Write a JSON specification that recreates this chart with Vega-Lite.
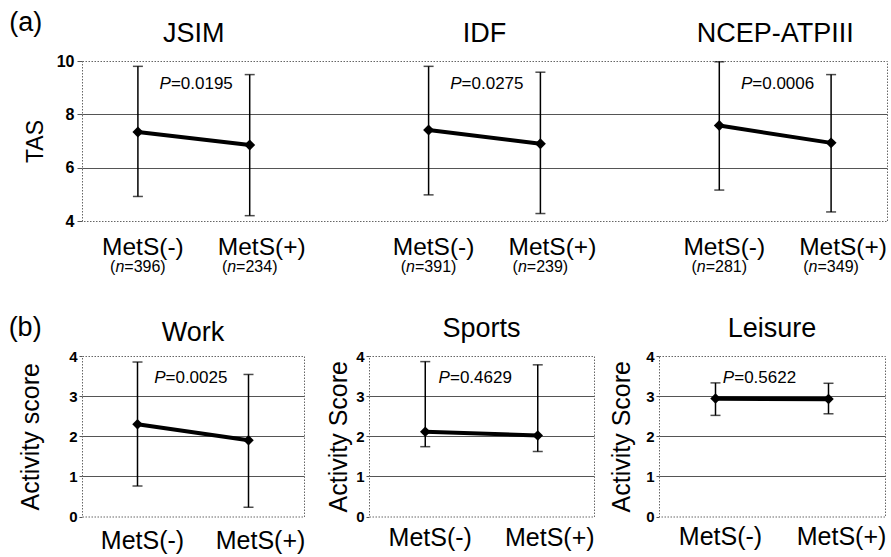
{
  "$schema": "https://vega.github.io/schema/vega-lite/v6.json",
  "padding": {"left": 8, "top": 8, "right": 0, "bottom": 0},
  "background": "white",
  "config": {
    "font": "Liberation Sans",
    "view": {"stroke": "#666", "strokeDash": [1.5, 1.5], "strokeWidth": 1},
    "axis": {"labelFont": "Liberation Sans", "titleFont": "Liberation Sans", "labelColor": "#000", "titleColor": "#000", "titleFontWeight": "normal", "labelFontWeight": "bold"},
    "text": {"font": "Liberation Sans", "color": "#000"}
  },
  "datasets": {
    "tas": [
      {"group": "JSIM", "status": "MetS(-)", "pos": 0.5, "n": 396, "mean": 7.34, "lo": 4.92, "hi": 9.8, "p": "0.0195"},
      {"group": "JSIM", "status": "MetS(+)", "pos": 1.5, "n": 234, "mean": 6.85, "lo": 4.2, "hi": 9.49, "p": "0.0195"},
      {"group": "IDF", "status": "MetS(-)", "pos": 3.1, "n": 391, "mean": 7.41, "lo": 4.98, "hi": 9.8, "p": "0.0275"},
      {"group": "IDF", "status": "MetS(+)", "pos": 4.1, "n": 239, "mean": 6.9, "lo": 4.28, "hi": 9.58, "p": "0.0275"},
      {"group": "NCEP-ATPIII", "status": "MetS(-)", "pos": 5.7, "n": 281, "mean": 7.58, "lo": 5.16, "hi": 9.97, "p": "0.0006"},
      {"group": "NCEP-ATPIII", "status": "MetS(+)", "pos": 6.7, "n": 349, "mean": 6.93, "lo": 4.34, "hi": 9.49, "p": "0.0006"}
    ],
    "act": [
      {"panel": "Work", "status": "MetS(-)", "pos": 0.5, "mean": 2.3, "lo": 0.76, "hi": 3.85, "p": "0.0025"},
      {"panel": "Work", "status": "MetS(+)", "pos": 1.5, "mean": 1.9, "lo": 0.23, "hi": 3.54, "p": "0.0025"},
      {"panel": "Sports", "status": "MetS(-)", "pos": 0.5, "mean": 2.11, "lo": 1.74, "hi": 3.86, "p": "0.4629"},
      {"panel": "Sports", "status": "MetS(+)", "pos": 1.5, "mean": 2.02, "lo": 1.62, "hi": 3.78, "p": "0.4629"},
      {"panel": "Leisure", "status": "MetS(-)", "pos": 0.5, "mean": 2.94, "lo": 2.52, "hi": 3.33, "p": "0.5622"},
      {"panel": "Leisure", "status": "MetS(+)", "pos": 1.5, "mean": 2.93, "lo": 2.56, "hi": 3.32, "p": "0.5622"}
    ]
  },
  "bounds": "flush",
  "spacing": 135,
  "vconcat": [
    {
      "width": 805,
      "height": 160,
      "data": {"name": "tas"},
      "encoding": {"x": {"field": "pos", "type": "quantitative", "scale": {"domain": [0, 7.2]}, "axis": null}},
      "layer": [
        {
          "mark": {"type": "rule", "color": "black", "strokeWidth": 1.5},
          "encoding": {
            "y": {"field": "lo", "type": "quantitative", "title": "TAS", "scale": {"domain": [4, 10], "nice": false, "zero": false},
              "axis": {"values": [4, 6, 8, 10], "grid": true, "gridColor": "#555", "gridWidth": 1,
                "gridOpacity": {"condition": {"test": "datum.value == 4 || datum.value == 10", "value": 0}, "value": 1},
                "domain": false, "ticks": true, "tickSize": 5, "tickColor": "#555", "labelFontSize": 16, "labelPadding": 3,
                "titleFontSize": 23, "titlePadding": 9}},
            "y2": {"field": "hi"}
          }
        },
        {
          "mark": {"type": "tick", "orient": "horizontal", "size": 10, "thickness": 1.5, "color": "black"},
          "encoding": {"y": {"field": "lo", "type": "quantitative", "title": "TAS"}}
        },
        {
          "mark": {"type": "tick", "orient": "horizontal", "size": 10, "thickness": 1.5, "color": "black"},
          "encoding": {"y": {"field": "hi", "type": "quantitative", "title": "TAS"}}
        },
        {
          "mark": {"type": "line", "color": "black", "strokeWidth": 4},
          "encoding": {"y": {"field": "mean", "type": "quantitative", "title": "TAS"}, "detail": {"field": "group"}}
        },
        {
          "mark": {"type": "point", "shape": "diamond", "filled": true, "color": "black", "size": 120, "opacity": 1},
          "encoding": {"y": {"field": "mean", "type": "quantitative", "title": "TAS"}}
        },
        {
          "transform": [{"filter": "datum.status == 'MetS(-)'"}],
          "mark": {"type": "text", "fontSize": 24.5, "baseline": "middle", "align": "center", "dx": 5},
          "encoding": {"y": {"datum": 3.0, "type": "quantitative"}, "text": {"field": "status"}}
        },
        {
          "transform": [{"filter": "datum.status == 'MetS(+)'"}],
          "mark": {"type": "text", "fontSize": 24.5, "baseline": "middle", "align": "center", "dx": 12},
          "encoding": {"y": {"datum": 3.0, "type": "quantitative"}, "text": {"field": "status"}}
        },
        {
          "mark": {"type": "text", "fontSize": 16, "baseline": "middle", "align": "right", "dx": -22.5},
          "encoding": {"y": {"datum": 2.27, "type": "quantitative"}, "text": {"value": "("}}
        },
        {
          "mark": {"type": "text", "fontSize": 16, "baseline": "middle", "align": "left", "dx": -22.5, "fontStyle": "italic"},
          "encoding": {"y": {"datum": 2.27, "type": "quantitative"}, "text": {"value": "n"}}
        },
        {
          "transform": [{"calculate": "'=' + datum.n + ')'", "as": "nlab"}],
          "mark": {"type": "text", "fontSize": 16, "baseline": "middle", "align": "left", "dx": -13.6},
          "encoding": {"y": {"datum": 2.27, "type": "quantitative"}, "text": {"field": "nlab"}}
        },
        {
          "transform": [{"filter": "datum.status == 'MetS(-)'"}],
          "mark": {"type": "text", "fontSize": 17, "baseline": "middle", "align": "right", "dx": 33, "fontStyle": "italic"},
          "encoding": {"y": {"datum": 9.13, "type": "quantitative"}, "text": {"value": "P"}}
        },
        {
          "transform": [{"filter": "datum.status == 'MetS(-)'"}, {"calculate": "'=' + datum.p", "as": "plab"}],
          "mark": {"type": "text", "fontSize": 17, "baseline": "middle", "align": "left", "dx": 33},
          "encoding": {"y": {"datum": 9.13, "type": "quantitative"}, "text": {"field": "plab"}}
        },
        {
          "transform": [{"aggregate": [{"op": "mean", "field": "pos", "as": "pos"}], "groupby": ["group"]}],
          "mark": {"type": "text", "fontSize": 27, "baseline": "middle", "align": "center"},
          "encoding": {"y": {"datum": 11.03, "type": "quantitative"}, "text": {"field": "group"}}
        },
        {
          "data": {"values": [{"label": "(a)", "pos": -0.65}]},
          "mark": {"type": "text", "fontSize": 27, "baseline": "middle", "align": "left"},
          "encoding": {"y": {"datum": 11.44, "type": "quantitative"}, "text": {"field": "label"}}
        }
      ]
    },
    {
      "bounds": "flush",
      "spacing": 65,
      "hconcat": [
        {
          "width": 222,
          "height": 160.5,
          "data": {"name": "act"},
          "encoding": {"x": {"field": "pos", "type": "quantitative", "scale": {"domain": [0, 2]}, "axis": null}},
          "layer": [
            {
              "transform": [{"filter": "datum.panel == 'Work'"}],
              "mark": {"type": "rule", "color": "black", "strokeWidth": 1.5},
              "encoding": {
                "y": {"field": "lo", "type": "quantitative", "title": "Activity score", "scale": {"domain": [0, 4], "nice": false, "zero": false},
                  "axis": {"values": [0, 1, 2, 3, 4], "grid": true, "gridColor": "#555", "gridWidth": 1,
                    "gridOpacity": {"condition": {"test": "datum.value == 0 || datum.value == 4", "value": 0}, "value": 1},
                    "domain": false, "ticks": true, "tickSize": 3, "tickColor": "#555", "labelFontSize": 15, "labelPadding": 2,
                    "titleFontSize": 25, "titlePadding": 25}},
                "y2": {"field": "hi"}
              }
            },
            {"transform": [{"filter": "datum.panel == 'Work'"}], "mark": {"type": "tick", "orient": "horizontal", "size": 10, "thickness": 1.5, "color": "black"}, "encoding": {"y": {"field": "lo", "type": "quantitative", "title": "Activity score"}}},
            {"transform": [{"filter": "datum.panel == 'Work'"}], "mark": {"type": "tick", "orient": "horizontal", "size": 10, "thickness": 1.5, "color": "black"}, "encoding": {"y": {"field": "hi", "type": "quantitative", "title": "Activity score"}}},
            {"transform": [{"filter": "datum.panel == 'Work'"}], "mark": {"type": "line", "color": "black", "strokeWidth": 4}, "encoding": {"y": {"field": "mean", "type": "quantitative", "title": "Activity score"}}},
            {"transform": [{"filter": "datum.panel == 'Work'"}], "mark": {"type": "point", "shape": "diamond", "filled": true, "color": "black", "size": 110, "opacity": 1}, "encoding": {"y": {"field": "mean", "type": "quantitative", "title": "Activity score"}}},
            {"transform": [{"filter": "datum.panel == 'Work' && datum.status == 'MetS(-)'"}], "mark": {"type": "text", "fontSize": 25, "baseline": "middle", "dx": 5}, "encoding": {"y": {"datum": -0.6, "type": "quantitative"}, "text": {"field": "status"}}},
            {"transform": [{"filter": "datum.panel == 'Work' && datum.status == 'MetS(+)'"}], "mark": {"type": "text", "fontSize": 25, "baseline": "middle", "dx": 12}, "encoding": {"y": {"datum": -0.6, "type": "quantitative"}, "text": {"field": "status"}}},
            {"transform": [{"filter": "datum.panel == 'Work' && datum.status == 'MetS(-)'"}], "mark": {"type": "text", "fontSize": 17, "baseline": "middle", "align": "right", "dx": 28, "fontStyle": "italic"}, "encoding": {"y": {"datum": 3.45, "type": "quantitative"}, "text": {"value": "P"}}},
            {"transform": [{"filter": "datum.panel == 'Work' && datum.status == 'MetS(-)'"}, {"calculate": "'=' + datum.p", "as": "plab"}], "mark": {"type": "text", "fontSize": 17, "baseline": "middle", "align": "left", "dx": 28}, "encoding": {"y": {"datum": 3.45, "type": "quantitative"}, "text": {"field": "plab"}}},
            {"transform": [{"filter": "datum.panel == 'Work'"}, {"aggregate": [{"op": "mean", "field": "pos", "as": "pos"}], "groupby": ["panel"]}], "mark": {"type": "text", "fontSize": 27, "baseline": "middle"}, "encoding": {"y": {"datum": 4.58, "type": "quantitative"}, "text": {"field": "panel"}}},
            {"data": {"values": [{"label": "(b)", "pos": -0.661}]}, "mark": {"type": "text", "fontSize": 27, "baseline": "middle", "align": "left"}, "encoding": {"y": {"datum": 4.71, "type": "quantitative"}, "text": {"field": "label"}}}
          ]
        },
        {
          "width": 225,
          "height": 160.5,
          "data": {"name": "act"},
          "transform": [{"filter": "datum.panel == 'Sports'"}],
          "encoding": {"x": {"field": "pos", "type": "quantitative", "scale": {"domain": [0, 2]}, "axis": null}},
          "layer": [
            {
              "mark": {"type": "rule", "color": "black", "strokeWidth": 1.5},
              "encoding": {
                "y": {"field": "lo", "type": "quantitative", "title": "Activity Score", "scale": {"domain": [0, 4], "nice": false, "zero": false},
                  "axis": {"values": [0, 1, 2, 3, 4], "grid": true, "gridColor": "#555", "gridWidth": 1,
                    "gridOpacity": {"condition": {"test": "datum.value == 0 || datum.value == 4", "value": 0}, "value": 1},
                    "domain": false, "ticks": true, "tickSize": 3, "tickColor": "#555", "labelFontSize": 15, "labelPadding": 2,
                    "titleFontSize": 25, "titlePadding": 4}},
                "y2": {"field": "hi"}
              }
            },
            {"mark": {"type": "tick", "orient": "horizontal", "size": 10, "thickness": 1.5, "color": "black"}, "encoding": {"y": {"field": "lo", "type": "quantitative", "title": "Activity Score"}}},
            {"mark": {"type": "tick", "orient": "horizontal", "size": 10, "thickness": 1.5, "color": "black"}, "encoding": {"y": {"field": "hi", "type": "quantitative", "title": "Activity Score"}}},
            {"mark": {"type": "line", "color": "black", "strokeWidth": 4}, "encoding": {"y": {"field": "mean", "type": "quantitative", "title": "Activity Score"}}},
            {"mark": {"type": "point", "shape": "diamond", "filled": true, "color": "black", "size": 110, "opacity": 1}, "encoding": {"y": {"field": "mean", "type": "quantitative", "title": "Activity Score"}}},
            {"transform": [{"filter": "datum.status == 'MetS(-)'"}], "mark": {"type": "text", "fontSize": 25, "baseline": "middle", "dx": 5}, "encoding": {"y": {"datum": -0.54, "type": "quantitative"}, "text": {"field": "status"}}},
            {"transform": [{"filter": "datum.status == 'MetS(+)'"}], "mark": {"type": "text", "fontSize": 25, "baseline": "middle", "dx": 12}, "encoding": {"y": {"datum": -0.54, "type": "quantitative"}, "text": {"field": "status"}}},
            {"transform": [{"filter": "datum.status == 'MetS(-)'"}], "mark": {"type": "text", "fontSize": 17, "baseline": "middle", "align": "right", "dx": 24.7, "fontStyle": "italic"}, "encoding": {"y": {"datum": 3.45, "type": "quantitative"}, "text": {"value": "P"}}},
            {"transform": [{"filter": "datum.status == 'MetS(-)'"}, {"calculate": "'=' + datum.p", "as": "plab"}], "mark": {"type": "text", "fontSize": 17, "baseline": "middle", "align": "left", "dx": 24.7}, "encoding": {"y": {"datum": 3.45, "type": "quantitative"}, "text": {"field": "plab"}}},
            {"transform": [{"aggregate": [{"op": "mean", "field": "pos", "as": "pos"}], "groupby": ["panel"]}], "mark": {"type": "text", "fontSize": 27, "baseline": "middle"}, "encoding": {"y": {"datum": 4.67, "type": "quantitative"}, "text": {"field": "panel"}}}
          ]
        },
        {
          "width": 226,
          "height": 160.5,
          "data": {"name": "act"},
          "transform": [{"filter": "datum.panel == 'Leisure'"}],
          "encoding": {"x": {"field": "pos", "type": "quantitative", "scale": {"domain": [0, 2]}, "axis": null}},
          "layer": [
            {
              "mark": {"type": "rule", "color": "black", "strokeWidth": 1.5},
              "encoding": {
                "y": {"field": "lo", "type": "quantitative", "title": "Activity Score", "scale": {"domain": [0, 4], "nice": false, "zero": false},
                  "axis": {"values": [0, 1, 2, 3, 4], "grid": true, "gridColor": "#555", "gridWidth": 1,
                    "gridOpacity": {"condition": {"test": "datum.value == 0 || datum.value == 4", "value": 0}, "value": 1},
                    "domain": false, "ticks": true, "tickSize": 3, "tickColor": "#555", "labelFontSize": 15, "labelPadding": 2,
                    "titleFontSize": 25, "titlePadding": 11}},
                "y2": {"field": "hi"}
              }
            },
            {"mark": {"type": "tick", "orient": "horizontal", "size": 10, "thickness": 1.5, "color": "black"}, "encoding": {"y": {"field": "lo", "type": "quantitative", "title": "Activity Score"}}},
            {"mark": {"type": "tick", "orient": "horizontal", "size": 10, "thickness": 1.5, "color": "black"}, "encoding": {"y": {"field": "hi", "type": "quantitative", "title": "Activity Score"}}},
            {"mark": {"type": "line", "color": "black", "strokeWidth": 4.5}, "encoding": {"y": {"field": "mean", "type": "quantitative", "title": "Activity Score"}}},
            {"mark": {"type": "point", "shape": "diamond", "filled": true, "color": "black", "size": 110, "opacity": 1}, "encoding": {"y": {"field": "mean", "type": "quantitative", "title": "Activity Score"}}},
            {"transform": [{"filter": "datum.status == 'MetS(-)'"}], "mark": {"type": "text", "fontSize": 25, "baseline": "middle", "dx": 5}, "encoding": {"y": {"datum": -0.52, "type": "quantitative"}, "text": {"field": "status"}}},
            {"transform": [{"filter": "datum.status == 'MetS(+)'"}], "mark": {"type": "text", "fontSize": 25, "baseline": "middle", "dx": 13}, "encoding": {"y": {"datum": -0.52, "type": "quantitative"}, "text": {"field": "status"}}},
            {"transform": [{"filter": "datum.status == 'MetS(-)'"}], "mark": {"type": "text", "fontSize": 17, "baseline": "middle", "align": "right", "dx": 18.7, "fontStyle": "italic"}, "encoding": {"y": {"datum": 3.45, "type": "quantitative"}, "text": {"value": "P"}}},
            {"transform": [{"filter": "datum.status == 'MetS(-)'"}, {"calculate": "'=' + datum.p", "as": "plab"}], "mark": {"type": "text", "fontSize": 17, "baseline": "middle", "align": "left", "dx": 18.7}, "encoding": {"y": {"datum": 3.45, "type": "quantitative"}, "text": {"field": "plab"}}},
            {"transform": [{"aggregate": [{"op": "mean", "field": "pos", "as": "pos"}], "groupby": ["panel"]}], "mark": {"type": "text", "fontSize": 27, "baseline": "middle"}, "encoding": {"y": {"datum": 4.67, "type": "quantitative"}, "text": {"field": "panel"}}}
          ]
        }
      ]
    }
  ]
}
